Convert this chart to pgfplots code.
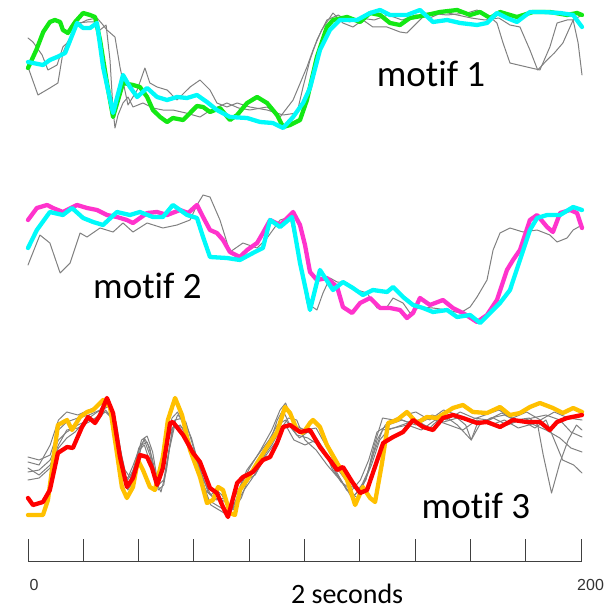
\documentclass[border=0pt]{standalone}
\usepackage{pgfplots}
\pgfplotsset{compat=1.18}
\usepackage{fontspec}
\setmainfont{Carlito}[Ligatures=NoCommon]
\newfontfamily\arialf{Liberation Sans}
\definecolor{mgreen}{RGB}{20,232,20}
\definecolor{mcyan}{RGB}{0,250,250}
\definecolor{mmag}{RGB}{255,51,204}
\definecolor{morange}{RGB}{255,192,0}
\definecolor{mred}{RGB}{255,0,0}
\definecolor{mgrey}{RGB}{128,128,128}
\begin{document}
\begin{tikzpicture}
\begin{axis}[
  scale only axis, width=613pt, height=610pt,
  xmin=-10.108, xmax=211.191, ymin=0, ymax=610, y dir=reverse,
  hide axis, clip=false,
  every axis plot/.append style={line join=round, line cap=round},
  grey/.style={mgrey, line width=1pt},
  thick col/.style={line width=4.3pt},
]
\path (rel axis cs:0,0) rectangle (rel axis cs:1,1);
% ---------------- panel 1 ----------------
\addplot[grey] coordinates {(0,38)(1.8,42)(5.1,55)(7.2,70)(10.5,65)(12.6,47)(15.2,40)(17.7,23)(21.3,22)(24.9,22)(26,30)(28.2,25)(29.6,60)(30.7,110)(31.4,128)(32.5,115)(34.3,103)(36.1,97)(37.9,107)(41.5,103)(45.1,108)(48.7,110)(52.3,110)(57,113)(62.1,117)(66,110)(71.8,103)(76,108)(80.1,110)(86.3,107)(91,117)(95.7,100)(100.7,67)(102.9,50)(106,30)(110.1,13)(113.7,23)(117.3,27)(120.9,20)(124.5,27)(129.6,27)(134.3,32)(136.8,33)(140.4,23)(144,13)(151.3,15)(158.5,13)(162.1,10)(166,15)(169.3,23)(171.5,43)(174,63)(180.1,67)(184.8,70)(188.4,47)(191,23)(194.6,20)(196.8,20)(198.6,43)(200,75)};
\addplot[grey] coordinates {(0,67)(3.6,95)(7.9,88)(10.8,83)(12.6,53)(14.1,43)(17.7,25)(21.3,20)(24.9,18)(26.8,24)(28.5,30)(31.4,37)(33.2,67)(36.1,105)(39.4,90)(42.2,68)(44,83)(46.6,87)(50.2,90)(53.8,100)(58.5,87)(62.1,80)(65.7,90)(68.2,103)(71.8,107)(75.5,103)(80.1,107)(86.3,110)(92.1,115)(97.1,113)(99.3,87)(101.8,60)(104.3,40)(107.9,20)(112,15)(116,22)(120,18)(125,20)(130,15)(135,20)(140,15)(145,18)(150,12)(155,15)(160,18)(165,20)(170,18)(174,25)(177.6,27)(181.2,50)(184,70)(187.4,60)(190,53)(193.1,43)(196.8,20)(200,15)};
\addplot[mgreen, thick col] coordinates {(0,68)(3,50)(5.5,32)(7.9,22)(9.7,20)(11.6,22)(12.6,30)(14.4,33)(17,22)(19.9,13)(22.4,15)(24.2,17)(26,40)(28.5,83)(30.7,117)(32.5,100)(34.3,83)(37.9,85)(40.4,87)(43,97)(45.1,110)(47.7,117)(50.2,122)(52.3,118)(56,120)(58.5,113)(61,106)(63.2,107)(65.7,112)(69.3,108)(72.9,120)(75.5,115)(79.1,103)(82.7,97)(86.3,103)(89.9,115)(92.1,127)(94.6,125)(98.2,120)(100.7,100)(104.3,57)(107.9,27)(110.1,20)(115.2,17)(119.9,22)(123.5,13)(127.1,15)(130.7,23)(134.3,25)(137.9,18)(144,15)(148.7,12)(154.9,10)(159.6,15)(163.2,12)(166.8,18)(170.4,12)(176.5,17)(182.3,12)(188.4,12)(194.6,15)(198.2,13)(200,15)};
\addplot[mcyan, thick col] coordinates {(0,62)(5.4,65)(7.9,60)(10.5,57)(13.4,53)(17.7,23)(19.9,28)(22.4,28)(24.9,23)(27.1,67)(30.7,113)(34.3,75)(36.8,87)(39.4,97)(43,88)(46.6,97)(50.2,100)(53.8,97)(57.4,98)(61,95)(64.6,102)(68.2,110)(72.9,117)(79.1,118)(83.8,122)(88.4,123)(92.1,128)(95.7,117)(99.3,103)(101.8,88)(105.4,50)(109,30)(112.6,20)(118.8,20)(123.5,13)(127.1,10)(130.7,15)(136.8,15)(141.5,10)(146.2,22)(151.3,20)(156,23)(162.1,25)(165.7,23)(169.3,13)(172.9,18)(176.5,22)(181.2,12)(185.9,12)(192.1,13)(196.8,15)(200,27)};
% ---------------- panel 2 ----------------
\addplot[grey] coordinates {(0,265)(4.3,235)(7.9,243)(11.6,273)(15.2,263)(18.8,233)(21.3,237)(26,228)(30.7,232)(34.3,223)(37.9,232)(43,223)(48.7,228)(53.8,225)(58.5,220)(61,205)(63.2,195)(65.7,197)(69.3,220)(72.9,252)(77.6,243)(82.7,248)(86.3,238)(91,220)(94.6,217)(98.2,263)(100.7,303)(104.3,310)(106.5,293)(109,278)(111.6,282)(115.2,283)(118.8,290)(122.4,293)(126,308)(129.6,307)(131.8,298)(135.4,303)(137.9,313)(141.5,307)(146.2,308)(151.3,310)(156,313)(159.6,307)(162.1,297)(165.7,280)(167.9,250)(170.4,233)(174,228)(178.7,232)(183.8,230)(188.4,235)(191,242)(194.6,238)(196.8,230)(200,225)};
\addplot[mmag, thick col] coordinates {(0,220)(3.2,208)(6.9,205)(9,208)(12.6,212)(17.7,205)(21.3,208)(24.9,210)(28.5,215)(32.1,217)(35.7,220)(37.9,223)(43,213)(46.6,212)(50.2,215)(54.9,210)(57.8,213)(61,205)(63.2,217)(65.7,230)(68.2,233)(70.4,240)(72.9,252)(76.5,257)(79.1,250)(82.7,243)(84.8,233)(87.4,220)(91,225)(95.7,212)(98.2,225)(100,245)(101.8,272)(104.3,280)(107.9,278)(111.6,287)(113.7,307)(117,313)(119.9,303)(123.5,298)(127.1,308)(130.7,308)(134.3,310)(136.8,318)(139,313)(141.5,298)(145.1,305)(149.8,300)(153.4,308)(157,313)(162.1,322)(165.7,315)(169.3,300)(172.9,270)(175.1,260)(177.6,250)(181.2,220)(183.8,215)(187.4,227)(189.5,232)(192.1,213)(195.7,210)(198.2,213)(200,228)};
\addplot[mcyan, thick col] coordinates {(0,248)(3.2,230)(7.9,212)(12.6,215)(15.9,208)(19.9,218)(23.5,222)(27.1,225)(32.1,212)(36.8,215)(40.4,212)(45.1,217)(48.7,217)(52.3,205)(54.9,210)(57.4,215)(61,218)(63.2,237)(65.7,257)(71.8,258)(76.5,260)(81.2,253)(84.8,248)(87.4,220)(91,227)(95.3,217)(98.2,263)(100.7,295)(101.8,310)(105.4,270)(110.1,290)(113.7,282)(117.3,288)(120.9,295)(124.5,290)(129.6,292)(131.8,287)(135.4,297)(139,305)(142.6,308)(146.2,312)(151.3,310)(154.9,317)(159.6,315)(163.2,323)(166.8,313)(170.4,303)(174,290)(177.6,260)(181.2,230)(183.8,218)(187.4,215)(192.1,215)(196.8,207)(200,210)};
% ---------------- panel 3 ----------------
\addplot[grey] coordinates {(0,462)(4,465)(8,445)(11,420)(14,412)(18,415)(22,410)(26,405)(28,402)(30,410)(32,430)(34,470)(36,480)(38,470)(40,448)(42,440)(44,455)(46,478)(48,470)(50,440)(52,418)(54,412)(57,430)(60,455)(63,478)(66,495)(68,490)(70,495)(72,505)(74,508)(77,485)(80,468)(84,450)(88,430)(91,410)(93,403)(96,425)(100,430)(104,428)(108,448)(112,470)(116,485)(119,490)(122,480)(125,445)(128,418)(132,420)(136,415)(140,412)(145,420)(150,410)(155,415)(160,420)(165,415)(170,410)(175,418)(180,412)(185,420)(190,412)(195,418)(200,420)};
\addplot[grey] coordinates {(0,472)(4,470)(8,460)(11,440)(14,432)(18,425)(22,420)(26,418)(28,410)(31,420)(33,450)(35,478)(37,485)(39,470)(41,445)(43,442)(45,460)(47,490)(49,485)(51,450)(53,425)(56,428)(59,448)(62,470)(65,500)(68,505)(71,510)(73,512)(76,495)(79,480)(82,475)(86,455)(90,440)(93,425)(96,440)(100,445)(104,440)(108,455)(112,475)(115,490)(118,495)(121,485)(124,465)(127,440)(130,430)(135,425)(140,420)(145,428)(150,415)(155,425)(160,440)(163,425)(168,418)(173,425)(178,420)(183,428)(187,420)(190,440)(193,460)(197,465)(200,473)};
\addplot[grey] coordinates {(0,480)(4,478)(8,468)(11,448)(14,438)(17,432)(21,420)(25,412)(28,408)(30,405)(32,425)(34,460)(36,490)(38,482)(40,455)(42,438)(44,448)(46,480)(48,492)(50,470)(52,430)(54,415)(57,422)(60,450)(63,482)(66,505)(69,510)(72,515)(75,505)(78,490)(81,478)(84,465)(87,445)(90,420)(92,410)(95,428)(98,438)(101,432)(104,438)(107,450)(110,470)(113,480)(117,498)(120,488)(123,470)(126,440)(129,425)(133,418)(137,422)(141,420)(146,415)(151,420)(156,412)(161,418)(166,420)(171,413)(176,420)(181,418)(184,425)(186,455)(189,493)(192,463)(195,440)(198,425)(200,430)};
\addplot[grey] coordinates {(0,457)(4,460)(8,455)(11,430)(14,422)(18,418)(22,415)(26,410)(28,400)(30,405)(32,440)(34,475)(36,478)(38,465)(40,450)(42,445)(44,462)(46,483)(48,478)(50,445)(52,428)(55,425)(58,440)(61,465)(64,490)(67,498)(70,500)(73,505)(76,490)(79,470)(83,455)(87,440)(90,425)(93,420)(97,435)(101,438)(105,445)(109,462)(113,482)(117,490)(120,480)(123,460)(126,432)(130,425)(135,420)(140,425)(145,418)(150,422)(155,418)(158,425)(160,440)(162,425)(167,418)(172,415)(177,422)(182,418)(187,415)(192,420)(196,432)(200,437)};
\addplot[grey] coordinates {(0,468)(4,475)(8,465)(11,445)(14,430)(18,428)(22,422)(26,415)(28,412)(31,420)(33,445)(35,470)(37,478)(39,462)(41,440)(43,436)(45,452)(47,485)(49,480)(51,448)(53,420)(56,418)(59,438)(62,468)(65,492)(68,500)(71,498)(74,510)(77,498)(80,475)(84,460)(88,445)(91,430)(94,418)(97,420)(100,440)(104,450)(108,465)(112,478)(116,492)(119,498)(122,478)(125,452)(128,430)(132,428)(137,425)(142,430)(147,420)(152,425)(157,430)(162,420)(167,425)(172,420)(177,428)(182,424)(187,430)(192,438)(196,448)(200,452)};
\addplot[morange, thick col] coordinates {(0,515)(5.4,515)(7.2,500)(10.8,425)(14.1,420)(15.9,430)(18.8,417)(21.3,412)(23.5,410)(27.1,400)(29.6,407)(32.1,453)(33.9,487)(35.7,498)(37.9,487)(39.7,460)(41.5,470)(44,487)(45.8,490)(48.7,457)(50.5,420)(53.1,398)(55.6,415)(58.5,450)(62.1,477)(64.6,503)(66.8,500)(68.6,487)(70.4,490)(72.9,513)(74.7,515)(76.5,490)(79.1,480)(82.7,463)(86.3,447)(89.9,432)(92.8,407)(94.6,413)(97.1,430)(99.3,433)(101.8,423)(102.9,420)(105.4,427)(107.9,445)(111.6,463)(115.2,480)(118.1,505)(120.9,487)(123.5,498)(125.3,502)(127.8,463)(130,423)(133.2,420)(136.8,412)(140.4,423)(144,417)(147.7,418)(153.4,408)(157,405)(160.6,412)(165.7,413)(170.4,407)(174,415)(177.6,413)(181.2,407)(184.8,403)(189.5,408)(193.1,413)(196.8,408)(200,412)};
\addplot[mred, thick col] coordinates {(0,498)(1.8,505)(5.4,502)(7.9,490)(10.8,453)(14.1,447)(16.2,448)(19.5,427)(21.7,417)(24.2,423)(26,415)(28.5,398)(30.7,413)(33.2,457)(35.7,487)(37.9,478)(40.4,455)(43,457)(44.8,468)(46.6,485)(48.7,468)(51.3,423)(52.3,422)(56,435)(59.6,453)(62.1,462)(65.7,488)(68.2,493)(70.4,507)(72.2,517)(75.5,483)(77.6,477)(81.2,472)(84.8,460)(87.4,457)(89.9,443)(92.1,427)(94.6,425)(98.2,432)(101.8,430)(105.4,447)(109,460)(111.6,470)(113.7,467)(117.3,483)(119.9,493)(122.4,490)(124.5,473)(128.2,443)(131.8,437)(135.4,432)(139,420)(142.6,427)(146.2,430)(149.8,418)(153.4,415)(157,418)(162.1,423)(165.7,422)(170.4,427)(175.1,420)(180.1,422)(184.8,422)(188.4,430)(191,422)(194.6,418)(200,415)};
% ---------------- texts ----------------
\node[anchor=base, inner sep=0pt, font=\fontsize{37}{40}\selectfont] at (axis cs:145.5,86.7) {motif 1};
\node[anchor=base, inner sep=0pt, font=\fontsize{37}{40}\selectfont] at (axis cs:43.1,298) {motif 2};
\node[anchor=base, inner sep=0pt, font=\fontsize{37}{40}\selectfont] at (axis cs:161.7,518) {motif 3};
\node[anchor=base, inner sep=0pt, font=\fontsize{28}{32}\selectfont] at (axis cs:115.2,603) {2 seconds};
\node[anchor=base, inner sep=0pt, font=\arialf\fontsize{16}{18}\selectfont, text=black!80] at (axis cs:2.2,590) {0};
\node[anchor=base, inner sep=0pt, font=\arialf\fontsize{16}{18}\selectfont, text=black!80] at (axis cs:203.1,590) {200};
\end{axis}
% scale bar
\begin{axis}[
  at={(28pt,48pt)}, anchor=south west,
  scale only axis, width=553pt, height=23pt,
  xmin=0, xmax=200, ymin=0, ymax=1,
  axis x line*=bottom, axis y line=none,
  xtick={0,20,...,200}, xticklabels=\empty, ytick=\empty,
  tick align=inside, major tick length=23pt,
  x axis line style={black!75, line width=1pt},
  tick style={black!75, line width=1pt},
]
\addplot[draw=none] coordinates {(0,0)(200,1)};
\end{axis}
\end{tikzpicture}
\end{document}
